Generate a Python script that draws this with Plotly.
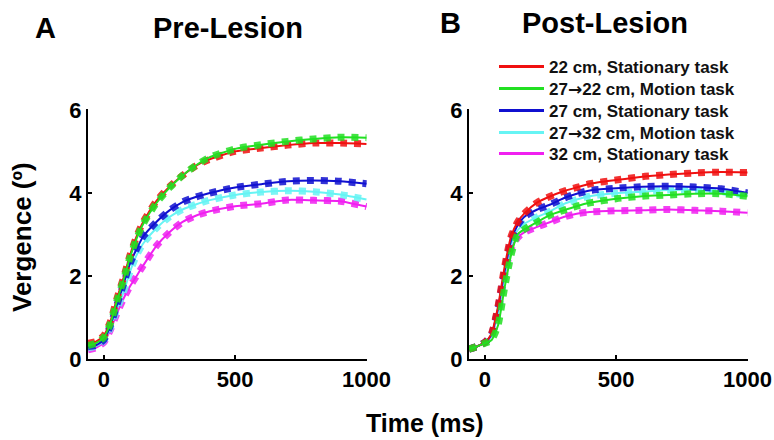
import plotly.graph_objects as go

# ---- data ----
time_ms = [-60, -30, 0, 25, 50, 75, 100, 125, 150, 200, 250, 300, 350, 400, 500, 600, 700, 800, 900, 1000]

series_names = ["22 cm, Stationary task", "27\u219222 cm, Motion task", "27 cm, Stationary task",
                "27\u219232 cm, Motion task", "32 cm, Stationary task"]
series_colors = ["#f01010", "#22e022", "#1010d0", "#66f4f4", "#f020f0"]

pre_22 = [0.38, 0.42, 0.56, 0.90, 1.45, 1.95, 2.50, 2.95, 3.30, 3.80, 4.15, 4.42, 4.65, 4.80, 5.00, 5.08, 5.15, 5.20, 5.20, 5.18]
pre_27to22 = [0.32, 0.38, 0.52, 0.85, 1.40, 1.90, 2.45, 2.90, 3.25, 3.75, 4.12, 4.42, 4.66, 4.85, 5.06, 5.16, 5.24, 5.30, 5.34, 5.33]
pre_27 = [0.30, 0.33, 0.46, 0.80, 1.30, 1.80, 2.30, 2.65, 2.95, 3.30, 3.58, 3.78, 3.90, 3.99, 4.13, 4.21, 4.28, 4.30, 4.28, 4.22]
pre_27to32 = [0.27, 0.31, 0.44, 0.75, 1.20, 1.60, 2.10, 2.50, 2.78, 3.15, 3.42, 3.60, 3.72, 3.82, 3.95, 4.02, 4.05, 4.03, 3.96, 3.84]
pre_32 = [0.22, 0.27, 0.40, 0.70, 1.10, 1.45, 1.75, 2.00, 2.25, 2.72, 3.05, 3.30, 3.45, 3.55, 3.68, 3.74, 3.83, 3.82, 3.80, 3.67]

post_22 = [0.24, 0.30, 0.40, 0.60, 1.25, 2.20, 2.95, 3.30, 3.50, 3.77, 3.92, 4.04, 4.13, 4.22, 4.31, 4.39, 4.44, 4.48, 4.50, 4.49]
post_27to22 = [0.24, 0.30, 0.38, 0.45, 0.80, 1.70, 2.50, 3.00, 3.12, 3.30, 3.47, 3.58, 3.68, 3.76, 3.86, 3.92, 3.95, 3.98, 3.98, 3.92]
post_27 = [0.24, 0.30, 0.40, 0.58, 1.20, 2.10, 2.85, 3.22, 3.42, 3.60, 3.72, 3.87, 3.98, 4.06, 4.11, 4.15, 4.16, 4.14, 4.10, 4.00]
post_27to32 = [0.24, 0.30, 0.40, 0.55, 1.10, 2.00, 2.75, 3.10, 3.25, 3.42, 3.56, 3.73, 3.84, 3.92, 3.99, 4.03, 4.07, 4.07, 4.03, 3.94]
post_32 = [0.24, 0.30, 0.40, 0.55, 1.10, 2.00, 2.65, 2.92, 3.05, 3.18, 3.30, 3.42, 3.50, 3.54, 3.57, 3.58, 3.60, 3.58, 3.56, 3.52]

pre_series = [pre_22, pre_27to22, pre_27, pre_27to32, pre_32]
post_series = [post_22, post_27to22, post_27, post_27to32, post_32]

x_ticks = [0, 500, 1000]
y_ticks = [0, 2, 4, 6]

FONT = "Liberation Sans, Arial, sans-serif"
W, H = 774, 440

fig = go.Figure()

def add_panel(series_list, xa, ya):
    order = [4, 3, 2, 0, 1]
    for i in order:
        vals = series_list[i]
        col = series_colors[i]
        fig.add_trace(go.Scatter(x=time_ms, y=vals, xaxis=xa, yaxis=ya, mode="lines",
                                 line=dict(color=col, width=7, dash="dot", shape="spline", smoothing=0.6),
                                 opacity=0.85, showlegend=False, hoverinfo="skip"))
        fig.add_trace(go.Scatter(x=time_ms, y=vals, xaxis=xa, yaxis=ya, mode="lines",
                                 line=dict(color=col, width=2, shape="spline", smoothing=0.6),
                                 showlegend=False, name=series_names[i]))

add_panel(pre_series, "x", "y")
add_panel(post_series, "x2", "y2")

# legend entries: one legend per row so spacing can match
legend_rows_px = [67, 89, 111, 133, 154]
legend_layout = {}
for i in range(5):
    lname = "legend" if i == 0 else f"legend{i+1}"
    label = series_names[i].replace("\u2192", "<span style='font-family:DejaVu Sans'>\u2192</span>")
    fig.add_trace(go.Scatter(x=[None], y=[None], xaxis="x2", yaxis="y2", mode="lines",
                             line=dict(color=series_colors[i], width=3),
                             name=label, showlegend=True, legend=lname))
    legend_layout[lname] = dict(x=494 / W, y=1 - legend_rows_px[i] / H, xanchor="left", yanchor="middle",
                                bgcolor="rgba(0,0,0,0)",
                                font=dict(family=FONT, size=17, color="#111", weight="bold"),
                                itemwidth=45)

axis_common = dict(showgrid=False, zeroline=False, showline=True, linecolor="black", linewidth=2,
                   ticks="inside", ticklen=4, tickwidth=1.5, tickcolor="black",
                   tickfont=dict(family=FONT, size=22, color="black", weight="bold"))

fig.update_layout(
    width=W, height=H,
    margin=dict(l=0, r=0, t=0, b=0, autoexpand=False),
    paper_bgcolor="white", plot_bgcolor="white",
    font=dict(family=FONT, color="black", weight="bold"),
    xaxis=dict(domain=[88 / W, 367 / W], range=[-60, 1002], tickvals=x_ticks, anchor="y", **axis_common),
    yaxis=dict(domain=[1 - 359 / H, 1 - 109 / H], range=[0, 6.02], tickvals=y_ticks, anchor="x", **axis_common),
    xaxis2=dict(domain=[469 / W, 748 / W], range=[-60, 1002], tickvals=x_ticks, anchor="y2", **axis_common),
    yaxis2=dict(domain=[1 - 359 / H, 1 - 109 / H], range=[0, 6.02], tickvals=y_ticks, anchor="x2", **axis_common),
    showlegend=True,
    **legend_layout,
)

ann = [
    dict(text="A", x=45, y=28, size=29),
    dict(text="Pre-Lesion", x=228, y=28, size=29),
    dict(text="B", x=451, y=23, size=29),
    dict(text="Post-Lesion", x=605, y=23, size=29),
    dict(text="Time (ms)", x=425, y=423, size=25),
]
for a in ann:
    fig.add_annotation(text=a["text"], x=a["x"] / W, y=1 - a["y"] / H, xref="paper", yref="paper",
                       showarrow=False, xanchor="center", yanchor="middle",
                       font=dict(family=FONT, size=a["size"], color="black", weight="bold"))
fig.add_annotation(text="Vergence (\u00ba)", x=22 / W, y=1 - 237 / H, xref="paper", yref="paper",
                   showarrow=False, textangle=-90, xanchor="center", yanchor="middle",
                   font=dict(family=FONT, size=26, color="black", weight="bold"))

fig.write_html("out.html", config={"displayModeBar": False},
               post_script="document.body.style.margin='0';")
